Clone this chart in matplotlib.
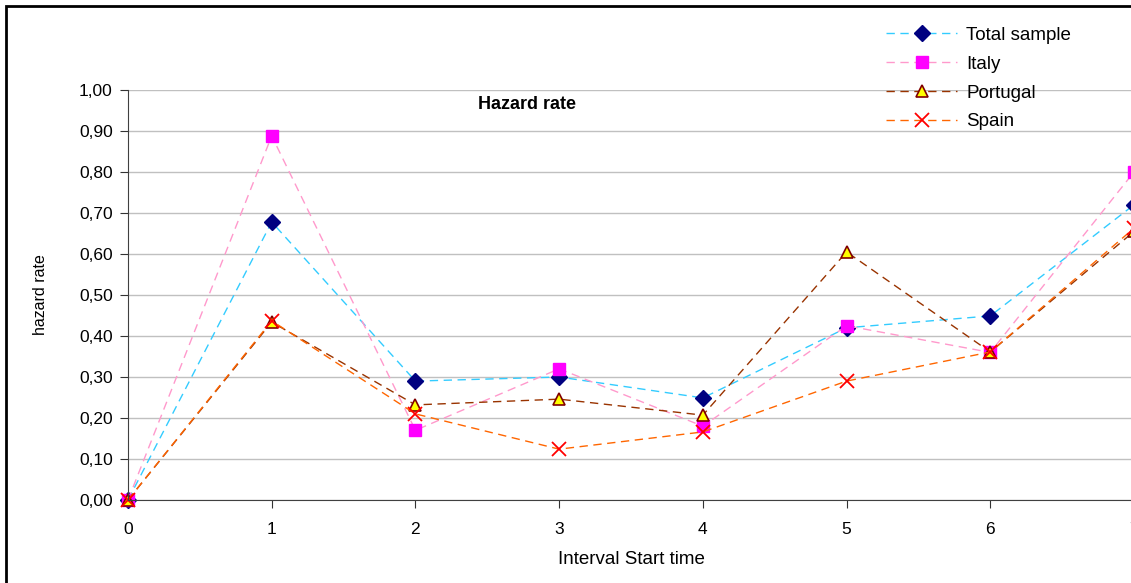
import numpy as np
import matplotlib.pyplot as plt
from matplotlib.patches import Rectangle
from matplotlib.ticker import FuncFormatter

plt.rcParams['font.family'] = ['Liberation Sans', 'DejaVu Sans']

# Hazard rate por intervalo
intervalos = [0, 1, 2, 3, 4, 5, 6, 7]
total = [0.0, 0.678, 0.29, 0.30, 0.249, 0.42, 0.449, 0.72]
italia = [0.0, 0.888, 0.17, 0.32, 0.18, 0.425, 0.36, 0.80]
portugal = [0.0, 0.434, 0.232, 0.246, 0.207, 0.605, 0.361, 0.655]
espana = [0.0, 0.437, 0.21, 0.124, 0.166, 0.29, 0.361, 0.663]

fig = plt.figure(figsize=(11.31, 5.83), dpi=100)
ax = fig.add_axes([128/1131, 83/583, (1134-128)/1131, 410/583])

estilo = dict(linestyle=(0, (6, 4)), linewidth=1, clip_on=False)
ax.plot(intervalos, total, color='#33CCFF', marker='D', markersize=8,
        markerfacecolor='#000080', markeredgecolor='#000080', label='Total sample', **estilo)
ax.plot(intervalos, italia, color='#FF99CC', marker='s', markersize=8,
        markerfacecolor='#FF00FF', markeredgecolor='#FF00FF', label='Italy', **estilo)
ax.plot(intervalos, portugal, color='#993300', marker='^', markersize=9,
        markerfacecolor='#FFFF00', markeredgecolor='#800000', markeredgewidth=1.2,
        label='Portugal', **estilo)
ax.plot(intervalos, espana, color='#FF6600', marker='x', markersize=10,
        markeredgecolor='#FF0000', markeredgewidth=1.3, label='Spain', **estilo)

ax.set_xlim(0, 7)
ax.set_ylim(0, 1.0)
ax.set_xticks(intervalos)
ax.set_yticks(np.arange(0, 1.01, 0.1))
ax.yaxis.set_major_formatter(FuncFormatter(lambda v, p: f'{v:.2f}'.replace('.', ',')))
ax.tick_params(axis='both', labelsize=12.5, length=6, color='#333333')
ax.tick_params(axis='y', pad=5)
ax.tick_params(axis='x', pad=10)
ax.grid(axis='y', color='#C0C0C0', linewidth=1)
ax.set_axisbelow(True)
for lado in ['top', 'right']:
    ax.spines[lado].set_visible(False)
for lado in ['left', 'bottom']:
    ax.spines[lado].set_color('#404040')

ax.set_xlabel('Interval Start time', fontsize=13.5, labelpad=10)
ax.set_ylabel('hazard rate', fontsize=11.5, labelpad=22)
ax.text(0.397, 0.985, 'Hazard rate', transform=ax.transAxes, fontsize=13,
        fontweight='bold', ha='center', va='top')

fig.legend(loc='upper left', bbox_to_anchor=(869/1131, 1 - 10/583), frameon=False,
           fontsize=13.5, handlelength=3.8, numpoints=1, labelspacing=0.62,
           handletextpad=0.5)

fig.add_artist(Rectangle((6/1131, -0.1), 1.2, 1 - 6/583 + 0.1, transform=fig.transFigure,
                         fill=False, edgecolor='black', linewidth=2))

fig.savefig('out.png', dpi=100)
